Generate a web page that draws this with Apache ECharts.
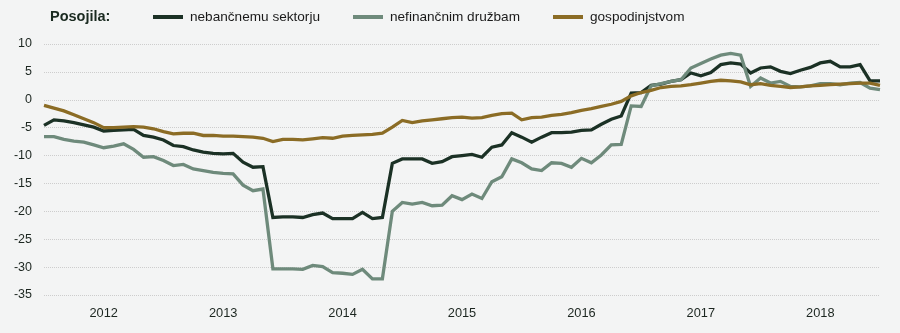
<!DOCTYPE html>
<html>
<head>
<meta charset="utf-8">
<script src="https://cdn.jsdelivr.net/npm/echarts@6/dist/echarts.min.js"></script>
<style>
  html, body { margin: 0; padding: 0; background: #f3f4f4; }
  #chart { width: 900px; height: 333px; }
</style>
</head>
<body>
<div id="chart"></div>
<script>
// Annual growth of loans, monthly, January 2012 onwards (in %)
const years = ['2012', '2013', '2014', '2015', '2016', '2017', '2018'];
const yTicks = [-35, -30, -25, -20, -15, -10, -5, 0, 5, 10];

const nebancnemuSektorju = [
  -4.6, -3.6, -3.8, -4.1, -4.5, -4.9, -5.6, -5.5, -5.4, -5.3, -6.4, -6.7,
  -7.2, -8.2, -8.4, -9.0, -9.4, -9.6, -9.7, -9.6, -11.2, -12.1, -12.0, -21.1,
  -21.0, -21.0, -21.1, -20.6, -20.3, -21.3, -21.3, -21.3, -20.2, -21.3, -21.1, -11.4,
  -10.6, -10.6, -10.6, -11.4, -11.1, -10.2, -10.0, -9.8, -10.3, -8.5, -8.1, -5.9,
  -6.7, -7.6, -6.7, -5.9, -5.9, -5.8, -5.5, -5.4, -4.4, -3.5, -2.9, 1.2,
  1.3, 2.6, 2.8, 3.3, 3.6, 4.8, 4.3, 4.9, 6.3, 6.6, 6.4, 4.8,
  5.7, 5.9, 5.1, 4.7, 5.3, 5.8, 6.6, 6.9, 5.9, 5.9, 6.3, 3.4,
  3.4
];

const nefinancnimDruzbam = [
  -6.6, -6.6, -7.1, -7.4, -7.6, -8.1, -8.6, -8.3, -7.9, -8.9, -10.3, -10.2,
  -10.9, -11.8, -11.6, -12.4, -12.7, -13.0, -13.2, -13.3, -15.3, -16.3, -16.0, -30.3,
  -30.3, -30.3, -30.4, -29.7, -29.9, -31.0, -31.1, -31.3, -30.4, -32.1, -32.1, -20.0,
  -18.4, -18.7, -18.4, -19.0, -18.9, -17.2, -17.9, -16.9, -17.7, -14.7, -13.8, -10.6,
  -11.3, -12.4, -12.7, -11.3, -11.4, -12.1, -10.5, -11.3, -9.9, -8.1, -8.0, -1.1,
  -1.2, 2.5, 2.9, 3.3, 3.6, 5.7, 6.5, 7.3, 8.0, 8.3, 8.0, 2.4,
  3.9, 3.0, 3.3, 2.4, 2.3, 2.5, 2.9, 2.9, 2.7, 3.0, 3.1, 2.1,
  1.8
];

const gospodinjstvom = [
  -1.0, -1.5, -2.0, -2.7, -3.4, -4.1, -5.0, -5.0, -4.9, -4.8, -4.9, -5.2,
  -5.7, -6.1, -6.0, -6.0, -6.4, -6.4, -6.5, -6.5, -6.6, -6.7, -6.9, -7.5,
  -7.1, -7.1, -7.2, -7.0, -6.8, -6.9, -6.5, -6.4, -6.3, -6.2, -6.0, -4.9,
  -3.7, -4.1, -3.8, -3.6, -3.4, -3.2, -3.1, -3.3, -3.2, -2.8, -2.5, -2.4,
  -3.6, -3.2, -3.1, -2.8, -2.6, -2.3, -1.9, -1.6, -1.2, -0.8, -0.3, 0.7,
  1.3, 1.7, 2.2, 2.4, 2.5, 2.7, 3.0, 3.3, 3.5, 3.4, 3.2, 2.7,
  2.9, 2.6, 2.4, 2.2, 2.3, 2.5, 2.6, 2.7, 2.8, 2.9, 3.0, 3.0,
  2.6
];

const seriesNames = ['nebančnemu sektorju', 'nefinančnim družbam', 'gospodinjstvom'];
const seriesColors = ['#1b3125', '#6e8a7b', '#8b6c25'];

// month keys 'YYYY-MM' for each observation
const months = [];
for (let i = 0; i < nebancnemuSektorju.length; i++) {
  const y = 2012 + Math.floor(i / 12);
  const m = (i % 12) + 1;
  months.push(y + '-' + (m < 10 ? '0' + m : m));
}
// year labels sit at July of each year
const yearLabelPos = years.map(y => months.indexOf(y + '-07'));

const toPairs = arr => arr.map((v, i) => [i, v]);

const sans = "'Liberation Sans', Arial, sans-serif";
const textColor = '#1c2620';

const chart = echarts.init(document.getElementById('chart'), null, { renderer: 'canvas' });

const legendBase = {
  top: 10,
  padding: 0,
  icon: 'rect',
  itemWidth: 30,
  itemHeight: 4,
  selectedMode: false,
  textStyle: { fontFamily: sans, fontSize: 13.6, color: '#1a1a1a', padding: [0, 0, 0, 2] }
};

chart.setOption({
  backgroundColor: '#f3f4f4',
  animation: false,
  title: {
    text: 'Posojila:',
    left: 50,
    top: 9,
    padding: 0,
    textStyle: { fontFamily: sans, fontWeight: 'bold', fontSize: 14.5, color: '#1a2a20' }
  },
  legend: [
    Object.assign({}, legendBase, { left: 153, data: [seriesNames[0]] }),
    Object.assign({}, legendBase, { left: 353, data: [seriesNames[1]] }),
    Object.assign({}, legendBase, { left: 553, data: [seriesNames[2]] })
  ],
  grid: { left: 44, right: 20, top: 44, bottom: 38, containLabel: false },
  xAxis: {
    type: 'value',
    min: 0,
    max: months.length - 1,
    axisLine: { show: false },
    axisTick: { show: false },
    splitLine: { show: false },
    axisLabel: {
      customValues: yearLabelPos,
      formatter: v => months[Math.round(v)].slice(0, 4),
      fontFamily: sans,
      fontSize: 12.8,
      color: textColor,
      margin: 12
    }
  },
  yAxis: {
    type: 'value',
    min: yTicks[0],
    max: yTicks[yTicks.length - 1],
    interval: 5,
    axisLine: { show: false },
    axisTick: { show: false },
    axisLabel: { fontFamily: sans, fontSize: 12.5, color: textColor, margin: 12 },
    splitLine: { show: true, lineStyle: { color: '#cdcdcd', type: 'dotted', width: 1 } }
  },
  series: [
    { name: seriesNames[0], data: toPairs(nebancnemuSektorju) },
    { name: seriesNames[1], data: toPairs(nefinancnimDruzbam) },
    { name: seriesNames[2], data: toPairs(gospodinjstvom) }
  ].map((s, i) => Object.assign(s, {
    type: 'line',
    showSymbol: false,
    symbol: 'none',
    color: seriesColors[i],
    lineStyle: { width: 3.3, color: seriesColors[i], join: 'miter' },
    z: 2 + i
  }))
});
</script>
</body>
</html>
